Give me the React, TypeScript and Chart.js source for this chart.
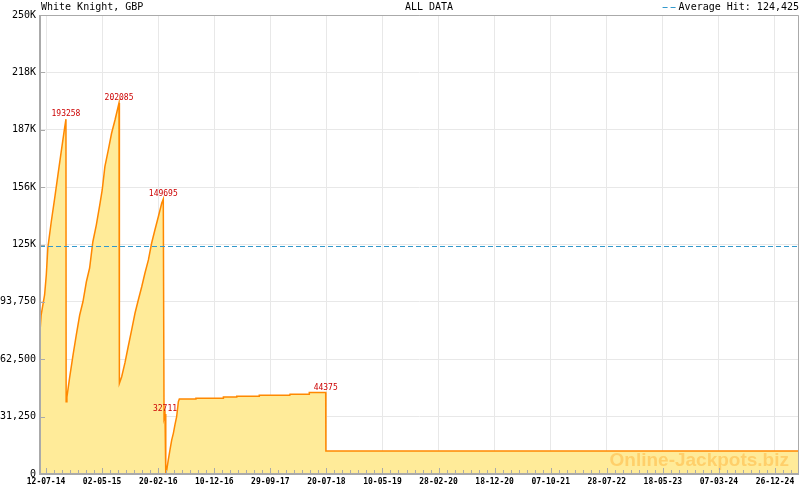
import React, { useEffect, useRef } from 'react';
import { Chart, registerables } from 'chart.js';
Chart.register(...registerables);

const TITLE_LEFT = 'White Knight, GBP';
const TITLE_CENTER = 'ALL DATA';
const AVERAGE_HIT = 124425;
const AVERAGE_LABEL = 'Average Hit: 124,425';
const WATERMARK = 'Online-Jackpots.biz';

const dates = [
  '2014-06-11', '2014-06-17', '2014-07-05', '2014-07-14', '2014-07-22', '2014-08-09', '2014-08-27',
  '2014-09-13', '2014-09-30', '2014-10-18', '2014-10-25', '2014-10-26', '2014-10-30', '2014-11-13',
  '2014-12-01', '2014-12-18', '2015-01-05', '2015-01-22', '2015-02-09', '2015-02-26', '2015-03-15',
  '2015-04-02', '2015-04-20', '2015-05-03', '2015-05-17', '2015-06-04', '2015-06-21', '2015-07-09',
  '2015-07-30', '2015-08-01', '2015-08-13', '2015-08-30', '2015-09-16', '2015-10-04', '2015-10-22',
  '2015-11-08', '2015-11-26', '2015-12-13', '2015-12-31', '2016-01-17', '2016-02-03', '2016-02-21',
  '2016-03-10', '2016-03-18', '2016-03-22', '2016-03-27', '2016-03-31', '2016-04-05', '2016-04-13',
  '2016-04-22', '2016-05-01', '2016-05-10', '2016-05-18', '2016-05-27', '2016-06-05', '2016-06-10',
  '2016-09-04', '2016-09-05', '2017-01-26', '2017-01-27', '2017-04-06', '2017-04-07', '2017-08-02',
  '2017-08-03', '2018-01-10', '2018-01-11', '2018-04-21', '2018-04-22', '2018-07-17', '2018-07-18',
  '2025-05-01',
];

const values = [
  77500, 86600, 97500, 108400, 123100, 137400, 150300,
  162900, 175500, 188500, 193258, 39400, 41900, 52300,
  64800, 75700, 86600, 93800, 104700, 112200, 126500,
  135600, 146500, 154700, 167400, 176500, 185600, 192800,
  202085, 49400, 53000, 60500, 69300, 78400, 87700,
  94800, 102000, 109500, 116600, 125800, 132900, 140100,
  147600, 149695, 30500, 32711, 500, 2200, 7600,
  13100, 18500, 22300, 26700, 31200, 39400, 40800,
  40800, 41300, 41300, 41900, 41900, 42400, 42400,
  42900, 42900, 43400, 43400, 44375, 44375, 12500,
  12500,
];

const labeledValues = [193258, 202085, 149695, 32711, 44375];

const axisStart = '2014-06-11';
const axisEnd = '2025-05-01';
const tickAnchor = '2014-07-12';
const tickOffsetDays = 0.64;
const majorStepDays = 293.81;
const minorPerMajor = 7;
const majorTickCount = 14;
const yMax = 250000;
const yStep = 31250;

const DAY = 86400000;
const toDay = (s: string) => {
  const [y, m, d] = s.split('-').map(Number);
  return Date.UTC(y, m - 1, d) / DAY;
};
const fmtDay = (v: number) => {
  const dt = new Date(Math.floor(v) * DAY);
  const p = (n: number) => String(n).padStart(2, '0');
  return `${p(dt.getUTCDate())}-${p(dt.getUTCMonth() + 1)}-${p(dt.getUTCFullYear() % 100)}`;
};

const MONO = '"DejaVu Sans Mono", monospace';

const decorPlugin = {
  id: 'decor',
  afterDatasetsDraw(chart: any) {
    const { ctx, chartArea } = chart;
    const { left, right, top, bottom } = chartArea;
    const xs = chart.scales.x;
    const ys = chart.scales.y;
    ctx.save();

    // watermark
    ctx.font = 'bold 19px "Liberation Sans", Arial, sans-serif';
    ctx.fillStyle = 'rgba(255,170,40,0.42)';
    ctx.textAlign = 'right';
    ctx.textBaseline = 'alphabetic';
    ctx.fillText(WATERMARK, right - 10, 466);

    // average line
    const ay = Math.round(ys.getPixelForValue(AVERAGE_HIT)) + 0.5;
    ctx.strokeStyle = '#3399cc';
    ctx.lineWidth = 1;
    ctx.setLineDash([5, 3]);
    ctx.beginPath();
    ctx.moveTo(left, ay);
    ctx.lineTo(right, ay);
    ctx.stroke();
    ctx.setLineDash([]);

    // point labels
    const meta = chart.getDatasetMeta(0);
    ctx.font = `8px ${MONO}`;
    ctx.fillStyle = '#cc0000';
    ctx.textAlign = 'center';
    ctx.textBaseline = 'bottom';
    labeledValues.forEach((v) => {
      const idx = values.lastIndexOf(v);
      if (idx < 0) return;
      const el = meta.data[idx];
      ctx.fillText(String(v), el.x, el.y - 1);
    });

    // tick marks
    ctx.strokeStyle = '#aaaaaa';
    ctx.lineWidth = 1;
    const a = toDay(tickAnchor) + tickOffsetDays;
    const mx = toDay(axisEnd);
    const minorStep = majorStepDays / minorPerMajor;
    for (let k = 0; a + k * minorStep <= mx; k++) {
      const px = Math.round(xs.getPixelForValue(a + k * minorStep)) + 0.5;
      const len = k % minorPerMajor === 0 ? 6 : 4;
      ctx.beginPath();
      ctx.moveTo(px, bottom);
      ctx.lineTo(px, bottom - len);
      ctx.stroke();
    }
    for (let v = yStep; v < yMax; v += yStep) {
      const py = Math.round(ys.getPixelForValue(v)) + 0.5;
      ctx.beginPath();
      ctx.moveTo(left, py);
      ctx.lineTo(left + 5, py);
      ctx.stroke();
    }

    // border
    ctx.strokeStyle = '#aaaaaa';
    ctx.lineWidth = 1;
    ctx.beginPath();
    ctx.moveTo(left, top + 0.5);
    ctx.lineTo(right - 0.5, top + 0.5);
    ctx.lineTo(right - 0.5, bottom);
    ctx.stroke();
    ctx.lineWidth = 2;
    ctx.beginPath();
    ctx.moveTo(left, top);
    ctx.lineTo(left, bottom);
    ctx.lineTo(right, bottom);
    ctx.stroke();

    // titles
    ctx.font = `10px ${MONO}`;
    ctx.fillStyle = '#000';
    ctx.textBaseline = 'alphabetic';
    ctx.textAlign = 'left';
    ctx.fillText(TITLE_LEFT, left + 1, 10);
    ctx.textAlign = 'center';
    ctx.fillText(TITLE_CENTER, 429, 10);
    ctx.textAlign = 'right';
    ctx.fillText(AVERAGE_LABEL, 799, 10);
    const tw = ctx.measureText(AVERAGE_LABEL).width;
    ctx.strokeStyle = '#3399cc';
    ctx.lineWidth = 1;
    ctx.setLineDash([5, 3]);
    ctx.beginPath();
    ctx.moveTo(799 - tw - 16, 7.5);
    ctx.lineTo(799 - tw - 2, 7.5);
    ctx.stroke();
    ctx.setLineDash([]);

    ctx.restore();
  },
};

export default function App() {
  const ref = useRef<HTMLCanvasElement>(null);
  useEffect(() => {
    document.body.style.margin = '0';
    const canvas = ref.current!;
    const data = dates.map((d, i) => ({ x: toDay(d), y: values[i] }));
    const chart = new Chart(canvas, {
      type: 'line',
      data: {
        datasets: [
          {
            data,
            borderColor: '#ff8800',
            borderWidth: 1.5,
            backgroundColor: '#ffeb99',
            fill: 'origin',
            pointRadius: 0,
            tension: 0,
          },
        ],
      },
      options: {
        responsive: false,
        animation: false,
        devicePixelRatio: 1,
        layout: { padding: { top: 15, right: 1, left: 0, bottom: 0 } },
        plugins: { legend: { display: false }, tooltip: { enabled: false }, title: { display: false } },
        scales: {
          x: {
            type: 'linear',
            min: toDay(axisStart),
            max: toDay(axisEnd),
            afterFit: (s: any) => {
              s.height = 16;
            },
            afterBuildTicks: (s: any) => {
              const arr: any[] = [];
              const a = toDay(tickAnchor) + tickOffsetDays;
              for (let k = 0; k < majorTickCount; k++) arr.push({ value: a + k * majorStepDays });
              s.ticks = arr;
            },
            grid: { color: '#e8e8e8', lineWidth: 1, drawTicks: false },
            border: { display: false },
            ticks: {
              autoSkip: false,
              maxRotation: 0,
              padding: 3,
              color: '#000',
              font: { family: 'DejaVu Sans Mono', size: 8, weight: 'bold' },
              callback: (v: any) => fmtDay(Number(v)),
            },
          },
          y: {
            min: 0,
            max: yMax,
            afterFit: (s: any) => {
              s.width = 40;
            },
            grid: { color: '#e8e8e8', lineWidth: 1, drawTicks: false },
            border: { display: false },
            ticks: {
              stepSize: yStep,
              padding: 4,
              color: '#000',
              font: { family: 'DejaVu Sans Mono', size: 10 },
              callback: (v: any) => {
                const n = Number(v);
                if (n >= 125000) return Math.floor(n / 1000) + 'K';
                return n.toLocaleString('en-US');
              },
            },
          },
        },
      },
      plugins: [decorPlugin],
    } as any);
    return () => chart.destroy();
  }, []);
  return (
    <div style={{ position: 'relative', width: 800, height: 490 }}>
      <canvas ref={ref} width={800} height={490} style={{ display: 'block' }} />
    </div>
  );
}
